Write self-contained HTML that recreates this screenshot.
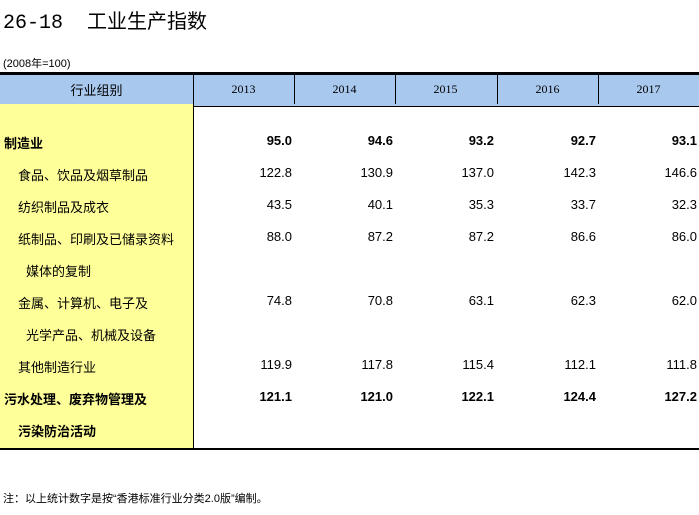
<!DOCTYPE html>
<html><head><meta charset="utf-8"><style>
body{margin:0;width:699px;height:515px;background:#fff;position:relative;overflow:hidden;font-family:"Liberation Sans","Noto Sans CJK SC",sans-serif;color:#000}
.a{position:absolute;white-space:nowrap}
.t{font-size:13px}
.n{font-size:13px;text-align:right;width:90px}
.b{font-weight:bold}
.hd{font-family:"Liberation Serif",serif;font-size:12px;text-align:center;width:101px;top:82px}
</style></head><body>
<div class="a" style="left:3px;top:5px;font-size:20px;font-family:'Liberation Mono','Noto Sans CJK SC',monospace">26-18&nbsp;&nbsp;工业生产指数</div>
<div class="a" style="left:3px;top:55px;font-size:11px">(2008年=100)</div>
<div class="a" style="left:0;top:72px;width:699px;height:31px;background:#a8c8ee;border-top:3px solid #000;border-bottom:1px solid #000"></div>
<div class="a" style="left:0;top:104px;width:193px;height:345px;background:#ffff99"></div>
<div class="a" style="left:0;top:448px;width:699px;height:2px;background:#000"></div>
<div class="a" style="left:193px;top:75px;width:1px;height:375px;background:#000"></div>
<div class="a" style="left:294px;top:75px;width:1px;height:29px;background:#000"></div>
<div class="a" style="left:395px;top:75px;width:1px;height:29px;background:#000"></div>
<div class="a" style="left:497px;top:75px;width:1px;height:29px;background:#000"></div>
<div class="a" style="left:598px;top:75px;width:1px;height:29px;background:#000"></div>
<div class="a t" style="left:0;width:193px;text-align:center;top:80px">行业组别</div>
<div class="a hd" style="left:193px">2013</div>
<div class="a hd" style="left:294px">2014</div>
<div class="a hd" style="left:395px">2015</div>
<div class="a hd" style="left:497px">2016</div>
<div class="a hd" style="left:598px">2017</div>
<div id="rows"></div>
<div class="a" style="left:3px;top:490px;font-size:11px">注：以上统计数字是按“香港标准行业分类2.0版”编制。</div>
<script>
const labels=["制造业","食品、饮品及烟草制品","纺织制品及成衣","纸制品、印刷及已储录资料","媒体的复制","金属、计算机、电子及","光学产品、机械及设备","其他制造行业","污水处理、废弃物管理及","污染防治活动"];
const indents=[0,1,1,1,2,1,2,1,0,1];
const bold=[1,0,0,0,0,0,0,0,1,1];
const v2013=["95.0","122.8","43.5","88.0","","74.8","","119.9","121.1",""];
const v2014=["94.6","130.9","40.1","87.2","","70.8","","117.8","121.0",""];
const v2015=["93.2","137.0","35.3","87.2","","63.1","","115.4","122.1",""];
const v2016=["92.7","142.3","33.7","86.6","","62.3","","112.1","124.4",""];
const v2017=["93.1","146.6","32.3","86.0","","62.0","","111.8","127.2",""];
const cols=[v2013,v2014,v2015,v2016,v2017];
const rights=[292,393,494,596,697];
const root=document.getElementById('rows');
labels.forEach((l,i)=>{
  const y=133+i*32;
  const d=document.createElement('div');
  d.className='a t'+(bold[i]?' b':'');
  d.style.left=(4+[0,14,22][indents[i]])+'px';d.style.top=y+'px';
  d.textContent=l;
  
  
  root.appendChild(d);
  cols.forEach((c,j)=>{
    if(!c[i])return;
    const n=document.createElement('div');
    n.className='a n'+(bold[i]?' b':'');
    n.style.left=(rights[j]-90)+'px';n.style.top=y+'px';
    n.textContent=c[i];
    
    
    root.appendChild(n);
  });
});
</script>
</body></html>
